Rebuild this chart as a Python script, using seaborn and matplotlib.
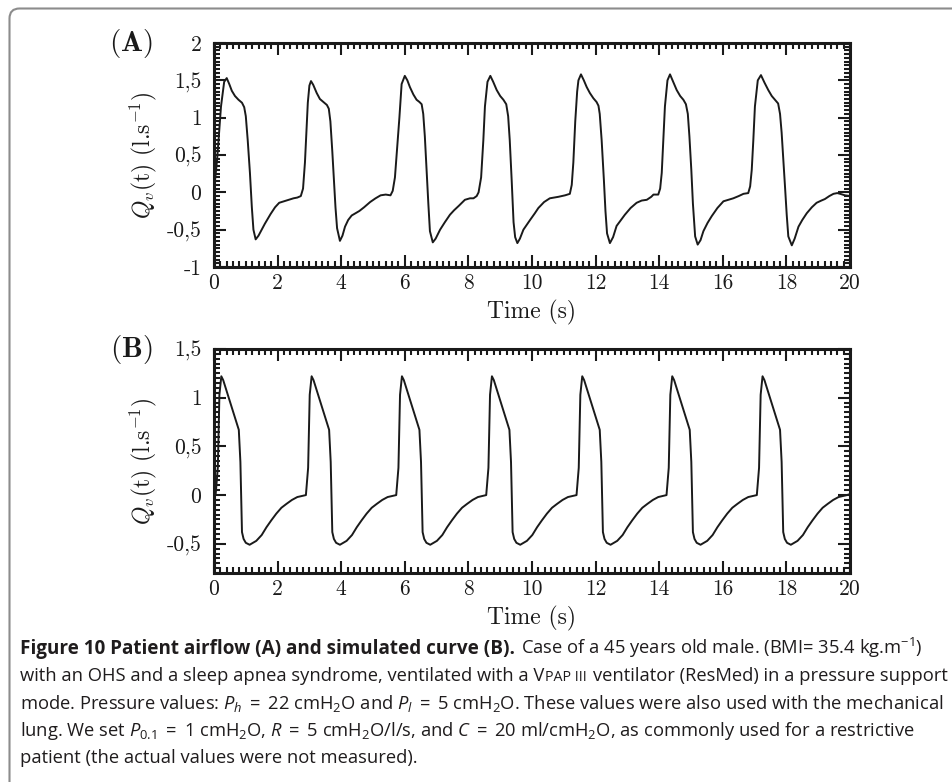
import matplotlib
matplotlib.use("Agg")
import matplotlib.pyplot as plt
import seaborn as sns
from matplotlib.patches import FancyBboxPatch
from matplotlib.transforms import IdentityTransform
from matplotlib.ticker import FixedLocator, MultipleLocator


# Données
# ***********************************************************************************************

# (A) débit mesuré chez le patient
temps_a = [
    0.00, 0.10, 0.22, 0.32, 0.40, 0.48, 0.56, 0.66, 0.77, 0.88, 0.95, 1.00, 1.06, 1.13, 1.19, 1.24,
    1.31, 1.40, 1.60, 1.78, 1.92, 2.05, 2.20, 2.34, 2.50, 2.62, 2.73,
    2.80, 2.86, 2.91, 2.95, 3.00, 3.05, 3.12, 3.23, 3.33, 3.44, 3.55, 3.61, 3.66, 3.72, 3.77, 3.82,
    3.87, 3.96, 4.04, 4.12, 4.22, 4.33, 4.45, 4.57, 4.72, 4.91, 5.08, 5.24, 5.40, 5.55,
    5.62, 5.69, 5.76, 5.83, 5.90, 6.00, 6.08, 6.16, 6.27, 6.37, 6.46, 6.53, 6.58, 6.63, 6.69, 6.74,
    6.79, 6.88, 6.97, 7.11, 7.26, 7.42, 7.55, 7.70, 7.89, 8.05, 8.16, 8.26,
    8.32, 8.40, 8.47, 8.52, 8.60, 8.69, 8.78, 8.89, 9.00, 9.10, 9.19, 9.25, 9.30, 9.36, 9.42, 9.47,
    9.54, 9.62, 9.73, 9.94, 10.09, 10.20, 10.38, 10.56, 10.70, 10.83, 11.04, 11.19,
    11.25, 11.30, 11.36, 11.42, 11.46, 11.54, 11.63, 11.72, 11.82, 11.93, 12.03, 12.09, 12.13, 12.19,
    12.26, 12.31, 12.36, 12.45, 12.55, 12.66, 12.80, 12.92, 13.10, 13.29, 13.45, 13.61, 13.75, 13.82,
    13.97,
    14.03, 14.08, 14.13, 14.18, 14.26, 14.34, 14.44, 14.55, 14.66, 14.76, 14.84, 14.90, 14.95, 15.01,
    15.06, 15.13, 15.21, 15.30, 15.39, 15.52, 15.65, 15.83, 16.02, 16.18, 16.33, 16.50, 16.65, 16.80,
    16.86, 16.91, 16.96, 17.01, 17.10, 17.20, 17.31, 17.43, 17.54, 17.64, 17.74, 17.80, 17.85, 17.91,
    17.96, 18.01, 18.06, 18.17, 18.26, 18.38, 18.50, 18.64, 18.80, 18.95, 19.10, 19.21, 19.35, 19.48,
    19.60, 19.69, 19.84, 20.00,
]
debit_a = [
    0.02, 0.45, 1.15, 1.48, 1.53, 1.45, 1.36, 1.29, 1.24, 1.20, 1.14, 1.02, 0.70, 0.26, -0.20, -0.50,
    -0.63, -0.58, -0.42, -0.29, -0.20, -0.14, -0.12, -0.10, -0.08, -0.07, -0.05,
    0.05, 0.40, 0.85, 1.20, 1.43, 1.49, 1.44, 1.33, 1.25, 1.21, 1.17, 1.12, 0.95, 0.55, 0.17, -0.20,
    -0.48, -0.65, -0.58, -0.46, -0.37, -0.31, -0.28, -0.25, -0.20, -0.13, -0.08, -0.04, -0.03, -0.04,
    0.02, 0.20, 0.60, 1.00, 1.45, 1.56, 1.50, 1.41, 1.31, 1.24, 1.21, 1.18, 1.05, 0.75, 0.26, -0.15,
    -0.52, -0.67, -0.62, -0.50, -0.40, -0.30, -0.24, -0.18, -0.10, -0.08, -0.08, -0.05,
    0.00, 0.20, 0.70, 1.15, 1.48, 1.56, 1.48, 1.37, 1.29, 1.24, 1.18, 1.02, 0.70, 0.17, -0.40, -0.60,
    -0.68, -0.62, -0.50, -0.37, -0.28, -0.21, -0.13, -0.08, -0.07, -0.06, -0.04, -0.02,
    0.10, 0.40, 0.95, 1.35, 1.50, 1.58, 1.50, 1.41, 1.33, 1.26, 1.21, 1.16, 1.05, 0.70,
    0.17, -0.25, -0.55, -0.68, -0.60, -0.45, -0.37, -0.30, -0.21, -0.14, -0.11, -0.10, -0.06, -0.03,
    -0.03,
    0.05, 0.26, 0.70, 1.15, 1.50, 1.58, 1.48, 1.37, 1.29, 1.24, 1.18, 1.05, 0.75, 0.30,
    -0.15, -0.59, -0.70, -0.64, -0.52, -0.41, -0.32, -0.21, -0.12, -0.10, -0.08, -0.05, -0.02, -0.01,
    0.08, 0.30, 0.70, 1.15, 1.50, 1.57, 1.47, 1.37, 1.29, 1.24, 1.19, 1.05, 0.80, 0.40,
    0.05, -0.30, -0.59, -0.71, -0.62, -0.46, -0.37, -0.28, -0.20, -0.14, -0.11, -0.09, -0.05, -0.02,
    -0.01, -0.02, -0.04, -0.05,
]

# (B) courbe simulée
temps_b = [
    0.00,
    0.05, 0.12, 0.17, 0.23, 0.29, 0.78, 0.83, 0.88, 0.93, 1.00, 1.12, 1.33, 1.50, 1.65, 1.80, 1.96,
    2.12, 2.28, 2.45, 2.62, 2.75,
    2.89, 2.96, 3.01, 3.07, 3.13, 3.62, 3.67, 3.72, 3.77, 3.84, 3.96, 4.17, 4.34, 4.49, 4.64, 4.80,
    4.96, 5.12, 5.29, 5.46, 5.59,
    5.73, 5.80, 5.85, 5.91, 5.97, 6.46, 6.51, 6.56, 6.61, 6.68, 6.80, 7.01, 7.18, 7.33, 7.48, 7.64,
    7.80, 7.96, 8.13, 8.30, 8.43,
    8.56, 8.63, 8.68, 8.74, 8.80, 9.29, 9.34, 9.39, 9.44, 9.51, 9.63, 9.84, 10.01, 10.16, 10.31, 10.47,
    10.63, 10.79, 10.96, 11.13, 11.26,
    11.40, 11.47, 11.52, 11.58, 11.64, 12.13, 12.18, 12.23, 12.28, 12.35, 12.47, 12.68, 12.85, 13.00,
    13.15, 13.31, 13.47, 13.63, 13.80, 13.97, 14.10,
    14.23, 14.30, 14.35, 14.41, 14.47, 14.96, 15.01, 15.06, 15.11, 15.18, 15.30, 15.51, 15.68, 15.83,
    15.98, 16.14, 16.30, 16.46, 16.63, 16.80, 16.93,
    17.07, 17.14, 17.19, 17.25, 17.31, 17.80, 17.85, 17.90, 17.95, 18.02, 18.14, 18.35, 18.52, 18.67,
    18.82, 18.98, 19.14, 19.30, 19.47, 19.64, 19.77,
    19.90, 20.00,
]
debit_b = [
    -0.01,
    0.00, 0.28, 1.03, 1.22, 1.18, 0.67, 0.34, -0.38, -0.45, -0.49, -0.51, -0.47, -0.41, -0.33, -0.26, -0.19,
    -0.13, -0.09, -0.05, -0.02, -0.01,
    0.00, 0.28, 1.03, 1.22, 1.18, 0.67, 0.34, -0.38, -0.45, -0.49, -0.51, -0.47, -0.41, -0.33, -0.26, -0.19,
    -0.13, -0.09, -0.05, -0.02, -0.01,
    0.00, 0.28, 1.03, 1.22, 1.18, 0.67, 0.34, -0.38, -0.45, -0.49, -0.51, -0.47, -0.41, -0.33, -0.26, -0.19,
    -0.13, -0.09, -0.05, -0.02, -0.01,
    0.00, 0.28, 1.03, 1.22, 1.18, 0.67, 0.34, -0.38, -0.45, -0.49, -0.51, -0.47, -0.41, -0.33, -0.26, -0.19,
    -0.13, -0.09, -0.05, -0.02, -0.01,
    0.00, 0.28, 1.03, 1.22, 1.18, 0.67, 0.34, -0.38, -0.45, -0.49, -0.51, -0.47, -0.41, -0.33,
    -0.26, -0.19, -0.13, -0.09, -0.05, -0.02, -0.01,
    0.00, 0.28, 1.03, 1.22, 1.18, 0.67, 0.34, -0.38, -0.45, -0.49, -0.51, -0.47, -0.41, -0.33,
    -0.26, -0.19, -0.13, -0.09, -0.05, -0.02, -0.01,
    0.00, 0.28, 1.03, 1.22, 1.18, 0.67, 0.34, -0.38, -0.45, -0.49, -0.51, -0.47, -0.41, -0.33,
    -0.26, -0.19, -0.13, -0.09, -0.05, -0.02, -0.01,
    0.00, 0.01,
]

# Graduations
graduations_x = [0, 2, 4, 6, 8, 10, 12, 14, 16, 18, 20]
etiquettes_x = ['0', '2', '4', '6', '8', '10', '12', '14', '16', '18', '20']
graduations_ya = [-1, -0.5, 0, 0.5, 1, 1.5, 2]
etiquettes_ya = ['-1', '-0,5', '0', '0,5', '1', '1,5', '2']
graduations_yb = [-0.5, 0, 0.5, 1, 1.5]
etiquettes_yb = ['-0,5', '0', '0,5', '1', '1,5']

legende = [
    [("Figure 10 Patient airflow (A) and simulated curve (B).", "bold"),
     (" ", None),
     (r"Case of a 45 years old male. (BMI= 35.4 kg.m$^{-1}$)", "normal")],
    [("with an OHS and a sleep apnea syndrome, ventilated with a V", "normal"),
     ("PAP III", "petit"),
     (" ", None),
     ("ventilator (ResMed) in a pressure support", "normal")],
    [(r"mode. Pressure values: $P_h\;=\;\mathrm{22}$ cmH$_2$O and $P_l\;=\;\mathrm{5}$ cmH$_2$O."
      r" These values were also used with the mechanical", "normal")],
    [(r"lung. We set $P_{\mathrm{0.1}}\;=\;\mathrm{1}$ cmH$_2$O, $R\;=\;\mathrm{5}$ cmH$_2$O/l/s, and"
      r" $C\;=\;\mathrm{20}$ ml/cmH$_2$O, as commonly used for a restrictive", "normal")],
    [("patient (the actual values were not measured).", "normal")],
]


# Mise en page
# ***********************************************************************************************

sns.set_theme(style="ticks")
plt.rcParams.update({
    'font.family': ['Open Sans', 'DejaVu Sans'],
    'mathtext.fontset': 'custom',
    'mathtext.rm': 'Open Sans',
    'mathtext.it': 'Open Sans:italic',
    'mathtext.bf': 'Open Sans:bold',
    'text.color': '#1f1c1d',
})

L, H = 953, 782
fig = plt.figure(figsize=(L / 100, H / 100), dpi=100)
fig.patch.set_facecolor('white')


def cadre(x0, y0, x1, y1):
    return [x0 / L, 1 - y1 / H, (x1 - x0) / L, (y1 - y0) / H]


noir = '#1a1a1a'
serif = 'cmr10'


def habiller(ax, grad_y, etiq_y, lim_y, lettre, y_lettre):
    ax.set_xlim(0, 20)
    ax.set_ylim(*lim_y)
    ax.xaxis.set_major_locator(FixedLocator(graduations_x))
    ax.set_xticklabels(etiquettes_x, fontfamily=serif, fontsize=15.5, color=noir)
    ax.yaxis.set_major_locator(FixedLocator(grad_y))
    ax.set_yticklabels(etiq_y, fontfamily=serif, fontsize=15.5, color=noir)
    ax.xaxis.set_minor_locator(MultipleLocator(0.2))
    ax.yaxis.set_minor_locator(MultipleLocator(0.05))
    ax.tick_params(which='both', direction='in', top=True, right=True, width=1.5, color=noir)
    ax.tick_params(which='major', length=8.5)
    ax.tick_params(which='minor', length=4.5)
    ax.tick_params(axis='y', which='major', pad=9)
    ax.tick_params(axis='x', which='major', pad=5)
    for s in ax.spines.values():
        s.set_linewidth(2.2)
        s.set_color(noir)
    ax.set_xlabel('Time (s)', fontfamily=serif, fontsize=17, color=noir)
    ax.xaxis.set_label_coords(0.5, -0.145)
    ax.set_ylabel(r'$Q_v$(t) (l.s$^{-1}$)', fontfamily=serif, fontsize=17, color=noir,
                  math_fontfamily='cm')
    ax.yaxis.set_label_coords(-0.087, 0.5)
    fig.text(131 / L, 1 - y_lettre / H, r'$\mathbf{(' + lettre + r')}$', math_fontfamily='cm',
             fontsize=21, ha='center', va='center', color=noir)


ax_a = fig.add_axes(cadre(214, 43, 850, 267))
sns.lineplot(x=temps_a, y=debit_a, ax=ax_a, color=noir, lw=1.4, sort=False, estimator=None)
habiller(ax_a, graduations_ya, etiquettes_ya, (-1, 2), 'A', 43)

ax_b = fig.add_axes(cadre(214, 349, 850, 573))
sns.lineplot(x=temps_b, y=debit_b, ax=ax_b, color=noir, lw=1.4, sort=False, estimator=None)
habiller(ax_b, graduations_yb, etiquettes_yb, (-0.8, 1.5), 'B', 349)

# Cadre gris arrondi autour de la figure
bord = FancyBboxPatch((9.5, -60), 1100, 782 - 8.5 + 60, boxstyle='round,pad=0,rounding_size=10',
                      transform=IdentityTransform(), fill=False, edgecolor='#8c8c8c', lw=1.5)
fig.add_artist(bord)

# Légende sous la figure
taille = 13.2
renderer = fig.canvas.get_renderer()


def mesurer(texte, **style):
    t = fig.text(0, 0, texte, **style)
    w = t.get_window_extent(renderer).width
    t.remove()
    return w


espace = mesurer("a a", fontsize=taille) - mesurer("aa", fontsize=taille)
styles = {
    'bold': dict(fontsize=13.6, fontweight='bold'),
    'normal': dict(fontsize=taille),
    'petit': dict(fontsize=taille * 0.78),
}

y_ligne = 654
for morceaux in legende:
    x = 20
    for texte, style in morceaux:
        if style is None:
            x += espace
            continue
        t = fig.text(x / L, 1 - y_ligne / H, texte, ha='left', va='baseline', **styles[style])
        x = t.get_window_extent(renderer).x1 + 1
    y_ligne += 27.3

fig.savefig('out.png', dpi=100)
